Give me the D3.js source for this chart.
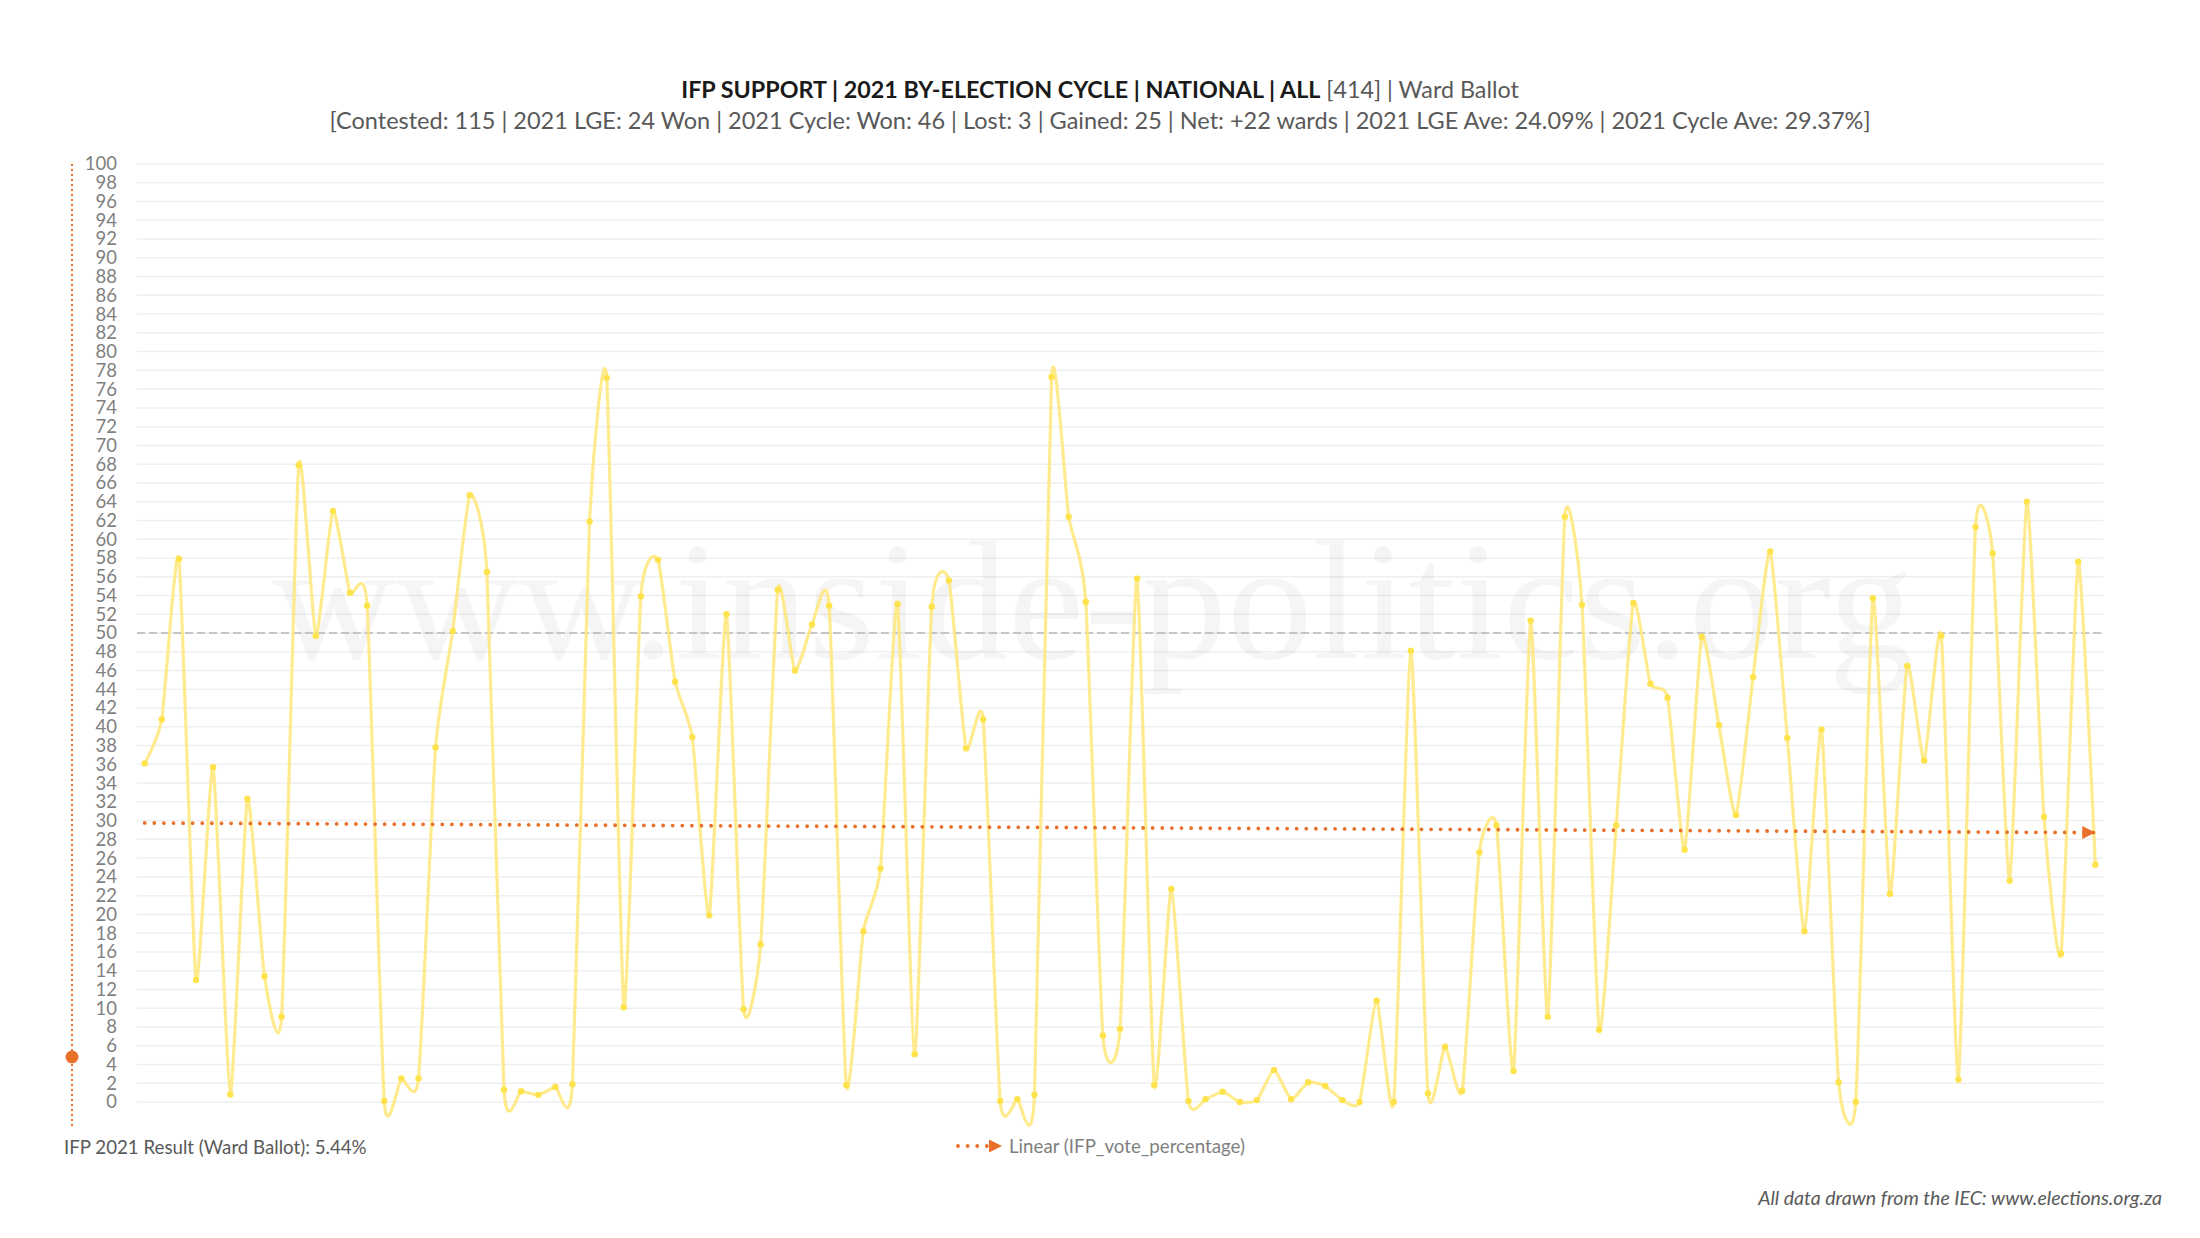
<!DOCTYPE html>
<html>
<head>
<meta charset="utf-8">
<script src="https://cdn.jsdelivr.net/npm/d3@7"></script>
<style>
  body { margin: 0; background: #fff; }
  text { font-family: Lato, "Open Sans", sans-serif; }
</style>
</head>
<body>
<div id="container"></div>
<script>
const w = 2200;
const h = 1238;
const p = {top: 164, right: 97, bottom: 136, left: 137};

// IFP ward ballot % in each 2021-cycle by-election (115 contests)
const ifpVotePct = [
  36.1, 40.8, 57.9, 13.0, 35.7, 0.8, 32.3, 13.4, 9.1, 67.9,
  49.7, 63.0, 54.3, 52.9, 0.1, 2.5, 2.5, 37.8, 50.2, 64.7,
  56.5, 1.3, 1.15, 0.76, 1.6, 1.9, 61.9, 77.2, 10.1, 53.9,
  57.8, 44.8, 38.9, 19.9, 52.0, 9.9, 16.8, 54.6, 46.0, 50.9,
  52.9, 1.8, 18.2, 24.9, 53.1, 5.1, 52.8, 55.6, 37.7, 40.8,
  0.1, 0.3, 0.76, 77.3, 62.4, 53.3, 7.1, 7.8, 55.8, 1.8,
  22.7, 0.1, 0.3, 1.1, 0, 0.2, 3.4, 0.3, 2.1, 1.7,
  0.2, 0, 10.8, 0, 48.1, 0.9, 5.9, 1.2, 26.6, 29.5,
  3.3, 51.3, 9.1, 62.4, 53.0, 7.7, 29.5, 53.2, 44.6, 43.1,
  26.9, 49.6, 40.2, 30.6, 45.3, 58.7, 38.8, 18.2, 39.7, 2.1,
  0, 53.7, 22.2, 46.5, 36.4, 49.7, 2.4, 61.3, 58.5, 23.6,
  64.0, 30.4, 15.8, 57.6, 25.3
];
const yTicks = d3.range(0, 101, 2);
const majorityLine = 50;
const ifp2021Result = 5.44;

const titleBold = 'IFP SUPPORT | 2021 BY-ELECTION CYCLE | NATIONAL | ALL';
const titleRest = ' [414] | Ward Ballot';
const subtitle = '[Contested: 115 | 2021 LGE: 24 Won | 2021 Cycle: Won: 46 | Lost: 3 | Gained: 25 | Net: +22 wards | 2021 LGE Ave: 24.09% | 2021 Cycle Ave: 29.37%]';
const legendLabel = 'Linear (IFP_vote_percentage)';
const resultLabel = 'IFP 2021 Result (Ward Ballot): 5.44%';
const sourceLabel = 'All data drawn from the IEC: www.elections.org.za';
const watermark = 'www.inside-politics.org';

const orange = '#E8702A';
const yellow = '#FFE87A';

const svg = d3.select('#container')
  .append('svg')
  .attr('width', w)
  .attr('height', h)
  .attr('viewBox', [0, 0, w, h]);

const defs = svg.append('defs');
defs.append('marker')
  .attr('id', 'arrow')
  .attr('viewBox', '0 0 10 10')
  .attr('refX', 10).attr('refY', 5)
  .attr('markerUnits', 'userSpaceOnUse')
  .attr('markerWidth', 15).attr('markerHeight', 13)
  .attr('orient', 'auto')
  .append('path')
  .attr('d', 'M0,0L10,5L0,10Z')
  .attr('fill', orange);

const idx = ifpVotePct.map((d, i) => i);

const x = d3.scalePoint()
  .domain(idx)
  .range([p.left, w - p.right])
  .padding(0.45);
const y = d3.scaleLinear()
  .domain([0, 100])
  .range([h - p.bottom, p.top]);

// gridlines
svg.append('g')
  .selectAll('line')
  .data(yTicks)
  .join('line')
  .attr('x1', p.left).attr('x2', w - p.right)
  .attr('y1', d => y(d)).attr('y2', d => y(d))
  .attr('stroke', '#efefef')
  .attr('stroke-width', 1.5);

// watermark
svg.append('text')
  .attr('x', 272)
  .attr('y', 658)
  .attr('textLength', 1642)
  .attr('lengthAdjust', 'spacingAndGlyphs')
  .style('font-family', '"Liberation Serif", "DejaVu Serif", serif')
  .style('font-size', '170px')
  .attr('fill', '#000')
  .attr('fill-opacity', 0.04)
  .text(watermark);

// y axis labels
const yAxis = d3.axisLeft(y)
  .tickValues(yTicks)
  .tickSize(0)
  .tickPadding(0);
svg.append('g')
  .attr('transform', 'translate(117,0)')
  .call(yAxis)
  .call(g => g.select('.domain').remove())
  .call(g => g.selectAll('text')
    .attr('fill', '#7f7f7f')
    .style('font-size', '18.5px')
    .style('font-family', 'Lato, sans-serif'));

// 50% line
svg.append('line')
  .attr('x1', p.left).attr('x2', w - p.right)
  .attr('y1', y(majorityLine)).attr('y2', y(majorityLine))
  .attr('stroke', '#b8b8b8')
  .attr('stroke-width', 1.6)
  .attr('stroke-dasharray', '8,4');

// left secondary dotted axis with result marker
svg.append('line')
  .attr('x1', 72).attr('x2', 72)
  .attr('y1', y(100)).attr('y2', 1128)
  .attr('stroke', orange)
  .attr('stroke-width', 2)
  .attr('stroke-dasharray', '2,3');
svg.append('circle')
  .attr('cx', 72)
  .attr('cy', y(ifp2021Result) + 6)
  .attr('r', 6.5)
  .attr('fill', orange);

// data line (smoothed like the spreadsheet line)
const line = d3.line()
  .x((d, i) => x(i))
  .y(d => y(d))
  .curve(d3.curveCardinal.tension(0.45));

svg.append('path')
  .datum(ifpVotePct)
  .attr('d', line)
  .attr('fill', 'none')
  .attr('stroke', yellow)
  .attr('stroke-opacity', 0.85)
  .attr('stroke-width', 3.2);

svg.append('g')
  .selectAll('circle')
  .data(ifpVotePct)
  .join('circle')
  .attr('cx', (d, i) => x(i))
  .attr('cy', d => y(d))
  .attr('r', 3.2)
  .attr('fill', '#FFE34D');

// linear trend
const n = ifpVotePct.length;
const mx = d3.mean(idx);
const my = d3.mean(ifpVotePct);
const slope = d3.sum(idx, i => (i - mx) * (ifpVotePct[i] - my)) /
              d3.sum(idx, i => (i - mx) * (i - mx));
const icpt = my - slope * mx;

svg.append('line')
  .attr('x1', x(0)).attr('y1', y(icpt))
  .attr('x2', x(n - 1)).attr('y2', y(icpt + slope * (n - 1)))
  .attr('stroke', orange)
  .attr('stroke-width', 3.8)
  .attr('stroke-linecap', 'round')
  .attr('stroke-dasharray', '0,9.6')
  .attr('marker-end', 'url(#arrow)');

// titles
const title = svg.append('text')
  .attr('x', w / 2)
  .attr('y', 98)
  .attr('text-anchor', 'middle')
  .attr('fill', '#1a1a1a')
  .style('font-size', '23.3px');
title.append('tspan').style('font-weight', 700).text(titleBold);
title.append('tspan').attr('fill', '#595959').text(titleRest);

svg.append('text')
  .attr('x', w / 2)
  .attr('y', 129)
  .attr('text-anchor', 'middle')
  .attr('fill', '#595959')
  .style('font-size', '23.5px')
  .text(subtitle);

// legend
const lg = svg.append('g').attr('transform', 'translate(958,1146)');
lg.append('line')
  .attr('x1', 0).attr('x2', 44)
  .attr('y1', 0).attr('y2', 0)
  .attr('stroke', orange)
  .attr('stroke-width', 3.8)
  .attr('stroke-linecap', 'round')
  .attr('stroke-dasharray', '0,9.6')
  .attr('marker-end', 'url(#arrow)');
lg.append('text')
  .attr('x', 51)
  .attr('y', 6.5)
  .attr('fill', '#7f7f7f')
  .style('font-size', '18.7px')
  .text(legendLabel);

svg.append('text')
  .attr('x', 64)
  .attr('y', 1154)
  .attr('fill', '#595959')
  .style('font-size', '18.7px')
  .text(resultLabel);

svg.append('text')
  .attr('x', 2162)
  .attr('y', 1205)
  .attr('text-anchor', 'end')
  .attr('fill', '#595959')
  .style('font-size', '19.5px')
  .style('font-style', 'italic')
  .text(sourceLabel);
</script>
</body>
</html>
